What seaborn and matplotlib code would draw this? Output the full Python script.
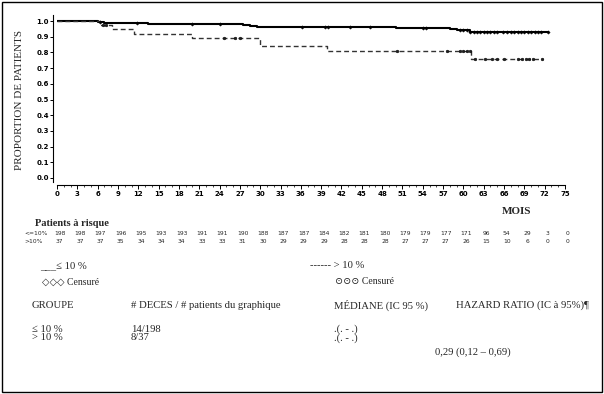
import numpy as np
import pandas as pd
import matplotlib
matplotlib.use("Agg")
import matplotlib.pyplot as plt
import matplotlib.transforms as mtransforms
from matplotlib.patches import Rectangle
import seaborn as sns

# === DONNÉES ===
mois_faible = [0, 6, 7, 12.5, 13.5, 27.5, 28.5, 29.5, 50, 58, 59, 60, 61, 72.5]
surv_faible = [1.0, 0.995, 0.99, 0.985, 0.98, 0.975, 0.97, 0.96, 0.955, 0.95, 0.945, 0.94, 0.93, 0.93]
censure_faible = [6.3, 11.8, 19.9, 24, 36.1, 39.6, 40, 43.3, 46.2, 54.1, 54.5,
                  59.5, 60, 60.5, 61, 61.5, 62, 62.5, 63, 63.5, 64, 64.5, 65,
                  65.8, 66.5, 67, 67.5, 68, 68.5, 69, 69.5, 70, 70.5, 71, 71.5, 72.5]

mois_eleve = [0, 6.3, 8.1, 11.3, 19.9, 30, 39.8, 61.1, 71.7]
surv_eleve = [1.0, 0.973, 0.946, 0.919, 0.892, 0.838, 0.811, 0.757, 0.757]
censure_eleve = [6.8, 7.3, 24.6, 26.3, 27, 50.2, 57.6, 59.5, 60, 60.5, 61,
                 61.7, 63.2, 64.2, 65, 66, 68, 68.7, 69.2, 69.7, 70.3, 71.6]

mois_risque = list(range(0, 76, 3))
risque_faible = [198, 198, 197, 196, 195, 193, 193, 191, 191, 190, 188, 187, 187,
                 184, 182, 181, 180, 179, 179, 177, 171, 96, 54, 29, 3, 0]
risque_eleve = [37, 37, 37, 35, 34, 34, 34, 33, 33, 31, 30, 29, 29,
                29, 28, 28, 28, 27, 27, 27, 26, 15, 10, 6, 0, 0]

W, H = 604, 394
SERIF = ["Liberation Serif", "DejaVu Serif"]


def valeur_a(temps, mois, surv):
    idx = np.searchsorted(mois, temps, side="right") - 1
    return np.asarray(surv)[idx]


sns.set_theme(style="white")
plt.rcParams["font.family"] = ["DejaVu Sans"]

fig = plt.figure(figsize=(W / 100, H / 100), dpi=100)
ax = fig.add_axes([57 / W, (H - 182.71) / H, 508 / W, 169.56 / H])

df_f = pd.DataFrame({"mois": mois_faible, "surv": surv_faible})
df_e = pd.DataFrame({"mois": mois_eleve, "surv": surv_eleve})
sns.lineplot(data=df_f, x="mois", y="surv", drawstyle="steps-post", color="black",
             lw=1.5, estimator=None, ax=ax)
sns.lineplot(data=df_e, x="mois", y="surv", drawstyle="steps-post", color="#333333",
             lw=1.0, estimator=None, ax=ax, linestyle=(0, (3.5, 2.2)))

cf = pd.DataFrame({"mois": censure_faible,
                   "surv": valeur_a(censure_faible, mois_faible, surv_faible)})
ce = pd.DataFrame({"mois": censure_eleve,
                   "surv": valeur_a(censure_eleve, mois_eleve, surv_eleve)})
sns.scatterplot(data=cf, x="mois", y="surv", marker="D", s=3, color="black",
                edgecolor="black", linewidth=0.3, ax=ax, zorder=3)
sns.scatterplot(data=ce, x="mois", y="surv", marker="o", s=4, color="#222222",
                edgecolor="black", linewidth=0.3, ax=ax, zorder=3)

ax.set_xlim(0, 75)
ax.set_ylim(-0.03, 1.05)
ax.set_xlabel("")
ax.set_ylabel("")
for s in ["top", "right"]:
    ax.spines[s].set_visible(False)
ax.spines["left"].set_position(("outward", 2.9))
ax.spines["bottom"].set_position(("outward", 1.7))
ax.spines["left"].set_bounds(-0.025, 1.038)
ax.spines["bottom"].set_bounds(0, 75)
for s in ["left", "bottom"]:
    ax.spines[s].set_color("black")
    ax.spines[s].set_linewidth(0.8)

ax.set_xticks(mois_risque)
ax.set_xticklabels([str(m) for m in mois_risque], fontsize=5, fontweight="bold")
ax.set_xticks(range(0, 76), minor=True)
ax.set_yticks(np.round(np.arange(0, 1.01, 0.1), 1))
ax.set_yticklabels([f"{v:.1f}" for v in np.arange(0, 1.01, 0.1)], fontsize=5,
                   fontweight="bold")
ax.tick_params(axis="x", which="major", length=2.6, width=0.7, direction="out",
               pad=1.8, bottom=True, colors="black")
ax.tick_params(axis="x", which="minor", length=1.3, width=0.5, direction="out",
               bottom=True, colors="black")
ax.tick_params(axis="y", which="major", length=2, width=0.7, direction="out",
               pad=1, left=True, colors="black")

fig.text(20 / W, 1 - 100 / H, "PROPORTION DE PATIENTS", rotation=90, ha="center",
         va="center", fontsize=8, family=SERIF)
fig.text(517 / W, 1 - 212 / H, "MOIS", ha="center", va="center", fontsize=8,
         fontweight="bold", family=SERIF)

# === Patients à risque ===
fig.text(35 / W, 1 - 223 / H, "Patients à risque", ha="left", va="center",
         fontsize=7.5, fontweight="bold", family=SERIF)
trans = mtransforms.blended_transform_factory(ax.transData, fig.transFigure)
fig.text(24 / W, 1 - 233 / H, "<=10%", ha="left", va="center", fontsize=4.3)
fig.text(24 / W, 1 - 242 / H, ">10%", ha="left", va="center", fontsize=4.3)
for m, a, b in zip(mois_risque, risque_faible, risque_eleve):
    ax.text(m + 0.4, 1 - 233 / H, str(a), transform=trans, ha="center",
            va="center", fontsize=4.3, clip_on=False)
    ax.text(m + 0.4, 1 - 242 / H, str(b), transform=trans, ha="center",
            va="center", fontsize=4.3, clip_on=False)

# === Légende et tableau ===
def txt(x, y, s, size=7.7):
    fig.text(x / W, 1 - y / H, s, ha="left", va="center", fontsize=size, family=SERIF)


txt(40, 266, "___≤ 10 %")
txt(42, 282, "◇◇◇ Censuré", 7)
txt(310, 266, "------ > 10 %")
txt(335, 282, "⊙⊙⊙ Censuré", 7)
txt(32, 305, "GROUPE")
txt(131, 305, "# DECES / # patients du graphique")
txt(334, 305, "MÉDIANE (IC 95 %)")
txt(456, 305, "HAZARD RATIO (IC à 95%)¶")
txt(32, 329, "≤ 10 %")
txt(131, 329, "14/198")
txt(334, 329, ".(. - .)")
txt(32, 338, "> 10 %")
txt(131, 338, "8/37")
txt(334, 338, ".(. - .)")
txt(435, 352, "0,29 (0,12 – 0,69)")

fig.patches.append(Rectangle((2 / W, 2 / H), 600 / W, 390 / H, transform=fig.transFigure,
                             fill=False, edgecolor="black", lw=1.0))

fig.savefig("out.png", dpi=100)
